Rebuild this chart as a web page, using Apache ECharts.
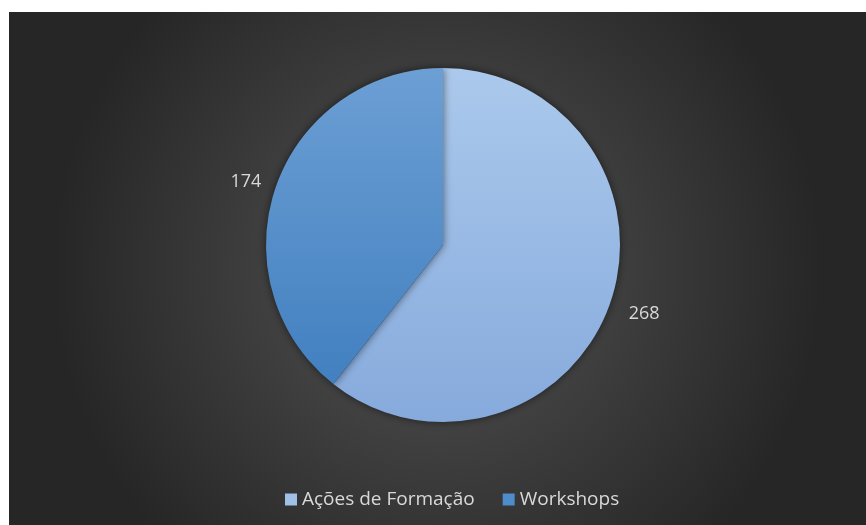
<!DOCTYPE html>
<html>
<head>
<meta charset="utf-8">
<script src="https://cdn.jsdelivr.net/npm/echarts@6/dist/echarts.min.js"></script>
<style>
html, body { margin: 0; padding: 0; background: #fff; }
#chart { width: 866px; height: 525px; }
</style>
</head>
<body>
<div id="chart"></div>
<script>
var categories = ['Ações de Formação', 'Workshops'];
var values = [268, 174];
var topColors = ['#abc9ec', '#6c9fd4'];
var bottomColors = ['#86aadc', '#3d7cbe'];

var myChart = echarts.init(document.getElementById('chart'));

var cx = 443, cy = 245, r = 177;

var data = categories.map(function (name, i) {
    return {
        name: name,
        value: values[i],
        itemStyle: {
            color: new echarts.graphic.LinearGradient(cx, cy - r, cx, cy + r, [
                { offset: 0, color: topColors[i] },
                { offset: 1, color: bottomColors[i] }
            ], true)
        }
    };
});

var option = {
    backgroundColor: '#ffffff',
    graphic: [
        {
            type: 'rect',
            z: -10,
            shape: { x: 9, y: 12, width: 857, height: 513 },
            style: {
                fill: new echarts.graphic.RadialGradient(0.5, 0.5, 0.75, [
                    { offset: 0, color: '#545454' },
                    { offset: 1, color: '#262626' }
                ])
            }
        }
    ],
    legend: {
        bottom: 11,
        left: 280,
        itemWidth: 12,
        itemHeight: 12,
        itemGap: 28,
        icon: 'rect',
        textStyle: { color: '#d9d9d9', fontSize: 19, fontFamily: 'Open Sans' },
        data: categories.map(function (name, i) {
            return { name: name, itemStyle: { color: i === 0 ? '#a0c0e8' : '#4f8ccb' } };
        })
    },
    series: [
        {
            type: 'pie',
            center: [cx, cy],
            radius: r,
            startAngle: 90,
            clockwise: true,
            data: data,
            itemStyle: {
                shadowBlur: 8,
                shadowColor: 'rgba(0,0,0,0.55)'
            },
            label: {
                show: true,
                position: 'outside',
                formatter: '{c}',
                color: '#d9d9d9',
                fontSize: 18,
                fontFamily: 'Open Sans'
            },
            labelLine: { show: false, length: 10, length2: 0 },
            labelLayout: function (params) {
                return params.dataIndex === 0 ? { dx: 4, dy: 8 } : { dx: 0, dy: -2 };
            },
            emphasis: { disabled: true }
        }
    ]
};

myChart.setOption(option);
window.onresize = function () {
    myChart.resize();
};
</script>
</body>
</html>
